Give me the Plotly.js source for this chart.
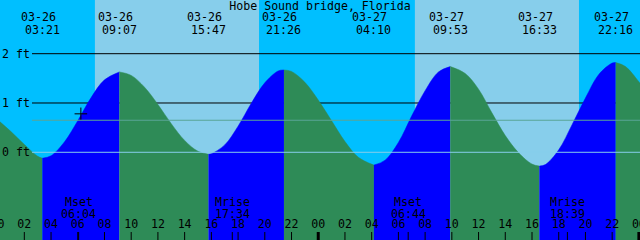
<!DOCTYPE html>
<html><head><meta charset="utf-8">
<script src="https://cdn.plot.ly/plotly-3.0.1.min.js"></script>
<style>html,body{margin:0;padding:0;background:#00BFFF;}#chart{width:640px;height:240px;}</style>
</head><body><div id="chart"></div>
<script>
// ---------- data ----------
const chartTitle = "Hobe Sound bridge, Florida";
// tide extremes
const tideDates = ["03-26","03-26","03-26","03-26","03-27","03-27","03-27","03-27"];
const tideTimes = ["03:21","09:07","15:47","21:26","04:10","09:53","16:33","22:16"];
const tideFt = [-0.12, 1.63, -0.04, 1.67, -0.26, 1.74, -0.28, 1.82];
// tide height, hours after 03-26 00:00
const readHours = [0,1,2,3,4,5,6,7,8,9,10,11,12,13,14,15,16,17,18,19,20,21,22,23,24,
                   25,26,27,28,29,30,31,32,33,34,35,36,37,38,39,40,41,42,43,44,45,46,47,48,48.5];
const readFt = [0.66,0.42,0.16,-0.08,-0.07,0.21,0.64,1.11,1.47,1.63,1.56,1.32,0.97,0.58,0.24,0.02,
                -0.03,0.15,0.53,1.00,1.41,1.65,1.64,1.42,1.06,0.64,0.22,-0.10,-0.25,-0.16,0.20,0.74,
                1.25,1.63,1.74,1.60,1.28,0.80,0.34,-0.01,-0.24,-0.25,0.05,0.56,1.10,1.58,1.81,1.74,1.43,1.25];
// sun
const sunDates = ["03-26","03-26","03-27","03-27"];
const sunTimes = ["07:17","19:34","07:14","19:31"];
// moon
const moonDates = ["03-26","03-26","03-27","03-27"];
const moonTimes = ["06:04","17:34","06:44","18:39"];
const moonNames = ["Mset","Mrise","Mset","Mrise"];
// levels
const levelFt = [2, 1];
const levelLabels = ["2 ft", "1 ft", "0 ft"];
const levelLabelFt = [2, 1, 0];
const datumFt = 0;
const mslFt = 0.65;
// hour axis
const tickHours = [0,2,4,6,8,10,12,14,16,18,20,22,24,26,28,30,32,34,36,38,40,42,44,46,48];
const tickLabels = ["00","02","04","06","08","10","12","14","16","18","20","22",
                    "00","02","04","06","08","10","12","14","16","18","20","22","00"];
// current-time marker
const nowTime = "06:14";
const nowDate = "03-26";
const nowFt = 0.78;

// ---------- helpers ----------
function toHours(d, t) {
  const day = parseInt(d.split("-")[1], 10) - 26;
  const [hh, mm] = t.split(":").map(Number);
  return day * 24 + hh + mm / 60;
}
const W = 640, H = 240;
const xMin = 0.18, xMax = 48.084;
const yMin = -1.779, yMax = 3.089;
const pyToPaper = py => 1 - py / H;
const pyToFt = py => yMax - py / H * (yMax - yMin);
const FONT = "DejaVu Sans Mono";
const FS = 11.6;

const tideHours = tideDates.map((d, i) => toHours(d, tideTimes[i]));
const sunHours = sunDates.map((d, i) => toHours(d, sunTimes[i]));
const moonHours = moonDates.map((d, i) => toHours(d, moonTimes[i]));

// combined sorted points
const pts = readHours.map((h, i) => ({h, v: readFt[i]}))
  .filter(p => !tideHours.some(t => Math.abs(t - p.h) < 0.2))
  .concat(tideHours.map((h, i) => ({h, v: tideFt[i]})))
  .sort((a, b) => a.h - b.h);

const bounds = [readHours[0]].concat(tideHours).concat([readHours[readHours.length - 1]]);
const traces = [];
const BASE = -3;
for (let i = 0; i < bounds.length - 1; i++) {
  const a = bounds[i], b = bounds[i + 1];
  const seg = pts.filter(p => p.h >= a - 1e-9 && p.h <= b + 1e-9);
  const rising = seg[seg.length - 1].v > seg[0].v;
  const col = rising ? "#0000FF" : "#2E8B57";
  traces.push({x: [a, b], y: [BASE, BASE], mode: "lines", line: {width: 0}, hoverinfo: "skip", showlegend: false});
  traces.push({x: seg.map(p => p.h), y: seg.map(p => p.v), mode: "lines",
    line: {width: 0.5, color: col, shape: "spline"}, fill: "tonexty", fillcolor: col,
    hoverinfo: "skip", showlegend: false});
}
// hour labels
traces.push({x: tickHours, y: tickHours.map(() => pyToFt(225.5)), mode: "text", text: tickLabels,
  textfont: {family: FONT, size: FS, color: "#000"}, textposition: "middle center",
  hoverinfo: "skip", showlegend: false});
// now marker
traces.push({x: [toHours(nowDate, nowTime)], y: [nowFt], mode: "markers",
  marker: {symbol: "cross-thin", size: 9, line: {width: 1, color: "#000"}, color: "#000"},
  hoverinfo: "skip", showlegend: false});

// ---------- shapes ----------
const shapes = [];
for (let i = 0; i < sunHours.length; i += 2) {
  shapes.push({type: "rect", xref: "x", yref: "paper", x0: sunHours[i], x1: sunHours[i + 1], y0: 0, y1: 1,
    fillcolor: "#87CEEB", line: {width: 0}, layer: "below"});
}
levelFt.forEach(v => shapes.push({type: "line", xref: "paper", yref: "y", x0: 32 / W, x1: 1, y0: v, y1: v,
  line: {color: "#000", width: 1}, layer: "below"}));
shapes.push({type: "line", xref: "paper", yref: "y", x0: 32 / W, x1: 1, y0: mslFt, y1: mslFt,
  line: {color: "#5AA596", width: 1}, layer: "above"});
shapes.push({type: "line", xref: "paper", yref: "y", x0: 32 / W, x1: 1, y0: datumFt, y1: datumFt,
  line: {color: "#87CEEB", width: 1}, layer: "above"});
tickHours.forEach(h => shapes.push({type: "line", xref: "x", yref: "paper", x0: h, x1: h, y0: 0, y1: 8 / H,
  line: {color: "#000", width: (h % 24 === 0) ? 3 : 1}, layer: "above"}));
moonHours.forEach(h => shapes.push({type: "line", xref: "x", yref: "paper", x0: h, x1: h, y0: 0, y1: 8 / H,
  line: {color: "#000", width: 1}, layer: "above"}));

// ---------- annotations ----------
const ann = [];
const tf = {family: FONT, size: FS, color: "#000"};
tideHours.forEach((h, i) => {
  ann.push({x: h, xref: "x", y: pyToPaper(17.5), yref: "paper", text: tideDates[i], showarrow: false,
    xanchor: "center", yanchor: "middle", xshift: -4, font: tf});
  ann.push({x: h, xref: "x", y: pyToPaper(29.5), yref: "paper", text: tideTimes[i], showarrow: false,
    xanchor: "center", yanchor: "middle", font: tf});
});
moonHours.forEach((h, i) => {
  ann.push({x: h, xref: "x", y: pyToPaper(202), yref: "paper", text: moonNames[i], showarrow: false,
    xanchor: "center", yanchor: "middle", font: tf});
  ann.push({x: h, xref: "x", y: pyToPaper(214), yref: "paper", text: moonTimes[i], showarrow: false,
    xanchor: "center", yanchor: "middle", font: tf});
});
levelLabels.forEach((t, i) => ann.push({x: 0, xref: "paper", y: levelLabelFt[i], yref: "y", text: t,
  showarrow: false, xanchor: "left", yanchor: "middle", font: tf}));

const layout = {
  width: W, height: H,
  margin: {l: 0, r: 0, t: 0, b: 0, pad: 0},
  paper_bgcolor: "#00BFFF", plot_bgcolor: "#00BFFF",
  showlegend: false,
  title: {text: chartTitle, x: 0.5, xanchor: "center", y: pyToPaper(6), yanchor: "middle", yref: "container",
    font: tf},
  xaxis: {range: [xMin, xMax], visible: false, fixedrange: true},
  yaxis: {range: [yMin, yMax], visible: false, fixedrange: true},
  shapes: shapes, annotations: ann
};
Plotly.newPlot("chart", traces, layout, {staticPlot: true, displayModeBar: false});
</script>
</body></html>
